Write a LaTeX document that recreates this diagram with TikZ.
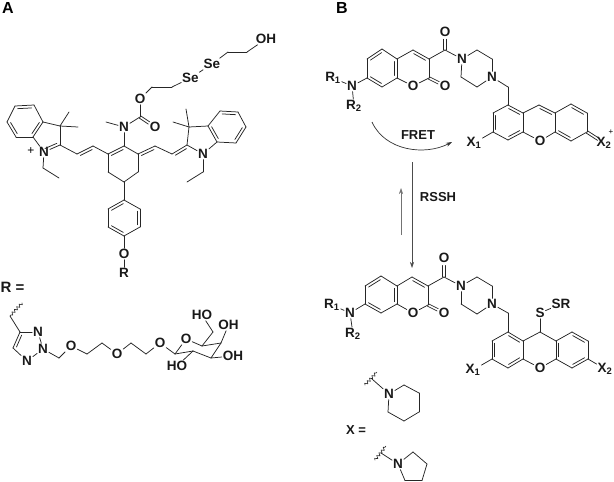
\documentclass[tikz,border=0pt]{standalone}
\usepackage{fontspec}
\setmainfont{Liberation Sans}
\usetikzlibrary{calc,arrows.meta,decorations.pathmorphing}
\tikzset{
  bond/.style={draw=black!85,line width=0.75pt,line cap=round,line join=round},
  atom/.style={font=\bfseries\fontsize{13.5}{13.5}\selectfont,inner sep=0.8pt,text=black!90},
  title/.style={font=\bfseries\fontsize{16}{16}\selectfont,inner sep=0pt},
  tlabel/.style={font=\bfseries\fontsize{13}{13}\selectfont,inner sep=0pt,text=black!90},
  wavy/.style={bond,line width=0.6pt,decorate,decoration={snake,amplitude=1.4pt,segment length=3.5pt}},
  rxn/.style={draw=black!70,line width=0.6pt,-{Stealth[length=6pt,width=4pt]}},
}
\newcommand{\innr}[2]{\draw[bond] ($(#1)!0.13!(#2)!2.8pt!-90:(#2)$) -- ($(#2)!0.13!(#1)!2.8pt!90:(#1)$);}
\newcommand{\dblo}[3]{\draw[bond] ($(#1)!1.3pt!90:(#2)$) -- ($(#1)!#3!(#2)!1.3pt!90:(#2)$);\draw[bond] ($(#1)!1.3pt!-90:(#2)$) -- ($(#1)!#3!(#2)!1.3pt!-90:(#2)$);}
\begin{document}
\begin{tikzpicture}[x=1pt,y=-1pt]
\useasboundingbox (0,0) rectangle (614,482);
\node[title] (ta) at (8,8) {A};
\node[title] (tb) at (342,8) {B};
% ---------- carbon positions ----------
\foreach \n/\x/\y in {
 La/15/106,Lb/34/105,Lc/43/122,Ld/33/137,Le/16/137,Lf/7/122,
 Lg/60/126,Lh/60/145,Lm1/69/112,Lm2/78/127,Lt1/43/168,Lt2/59/178,
 Ch1/77/154,Ch2/93/146,
 Ca/108/154,Cb/124/146,Cc/138/154,Cd/138/172,Ce/124/182,Cf/108/172,
 Nm/106/122,Cco/140/117,Ox1/152/87,Ox2/172/87,Se1/228/52,Se2/247/52,
 Rh1/155/146,Rh2/172/154,Rh3/187/145,
 Rg/189/127,Rm1/186/109,Rm2/173/122,Rt1/203/172,Rt2/187/182,
 Ra/208/126,Rb/220/111,Rc/238/112,Rd/246/127,Re/236/143,Rf/217/142,
 Pa/124/200,Pb/140/209,Pc/140/227,Pd/124/236,Pe/108/227,Pf/108/209,
 Wa/22/303,Wb/10/316,Tc/20/332,Td/13/348,
 Ea/59/358,Eb/87/354,Ec/102/343,Ed/131/343,Ee/146/354,
 Sa/175/354,Sb/193/351,Sc/211/358,Sd/221/343,Se/202/346,Sf/213/332,
 Ua/382/49,Ub/397/59,Uc/397/78,Ud/382/87,Ue/367/78,Uf/367/59,
 Ug/413/50,Uh/429/59,Ui/429/78,Uj/445/50,
 Up1/477/50,Up2/492/59,Up3/477/87,Up4/461/77,Um/508/87,
 Xa/508/105,Xb/523/113,Xc/523/132,Xd/508/140,Xe/493/132,Xf/493/113,
 Xg/539/105,Xh/555/113,Xi/555/132,Xj/571/104,Xk/587/113,Xl/587/132,Xm/571/141,
 Va/381/276,Vb/397/286,Vc/397/304,Vd/381/313,Ve/365/304,Vf/365/286,
 Vg/412/277,Vh/428/286,Vi/428/305,Vj/444/277,
 Vp1/477/277,Vp2/492/286,Vp3/477/314,Vp4/461/304,Vm/508/313,
 Ya/508/332,Yb/523/341,Yc/523/359,Yd/508/368,Ye/492/359,Yf/492/341,
 Yg/540/332,Yh/556/341,Yi/556/359,Yj/572/332,Yk/588/341,Yl/588/359,Ym/572/368,
 Aa/404/385,Ab/419/393,Ac/419/412,Ad/404/421,Ae/388/412,
 Ax1/365/385,Ax2/377/372,Ay/372/379,
 Ba/413/452,Bb/427/464,Bc/422/480.5,Bd/405/480.5,
 Bx1/375/460,Bx2/386/446,By/381/453,
 Fs/372/122,Ff/452/142,Fc1/385/151,Fc2/425/156,
 Da/412/162,Db/412/268,Dc/401/235,Dd/401/188}
 \coordinate (\n) at (\x,\y);
% ---------- atoms ----------
\foreach \n/\x/\y/\t in {
 Ln/44/152/N, Nn/124/127/N, Oc/155/127/O, Os/140/99/O,
 Sx/190.5/78/Se, Sy/212/64/Se, OH/266/39/OH, Rn/203/154/N,
 Op/124/254/O, Rr/124/273/R,
 Ta/38/332/N, Tb/43/349/N, Tn/27/361/N,
 Oa/71/346/O, Ob/117/354/O, Oe/160/343/O, Or/186/339/O,
 Hb/177/366/HO, Hc/233/356/OH, Hd/228.5/325/OH, Hf/202/315/HO,
 Un/352/86/N, Uo/413/86/O, Uco/445/86/O, Uja/445/32/O, Uq/462/59/N, Ur/492/77/N,
 Xo/540/141/O,
 Vn/350/313/N, Vo/413/313/O, Vco/444/313/O, Vja/444/258/O, Vq/461/286/N, Vr/492/304/N,
 Yo/540/368/O, Ys/540/313/S, Ysr/561/304/SR,
 An/389/394/N, Bn/398/464/N}
 \node[atom] (\n) at (\x,\y) {\t};
\node[inner sep=0pt,font=\fontsize{12}{12}\selectfont] (Lp) at (31,151) {+};
\node[atom] (U1) at (333,78) {R\textsubscript{1}};
\node[atom] (U2) at (354,106) {R\textsubscript{2}};
\node[atom] (V1) at (332,305) {R\textsubscript{1}};
\node[atom] (V2) at (353,334) {R\textsubscript{2}};
\node[atom] (X1) at (474,143) {X\textsubscript{1}};
\node[atom] (X2) at (604,143) {X\textsubscript{2}};
\node[inner sep=0pt,font=\fontsize{8}{8}\selectfont] (Xp) at (611,132) {+};
\node[atom] (Y1) at (473,370) {X\textsubscript{1}};
\node[atom] (Y2) at (605,369) {X\textsubscript{2}};
\node[tlabel,font=\bfseries\fontsize{15}{15}\selectfont] (Req) at (12.5,287) {R =};
\node[tlabel] (Xeq) at (356,430) {X =};
\node[tlabel] (fret) at (418,135) {FRET};
\node[tlabel] (rssh) at (438,197) {RSSH};
% ---------- single bonds ----------
\foreach \a/\b in {
 La/Lb,Lb/Lc,Lc/Ld,Ld/Le,Le/Lf,Lf/La,Lc/Lg,Lg/Lh,Lh/Ln,Ln/Ld,Lg/Lm1,Lg/Lm2,Ln/Lt1,Lt1/Lt2,
 Lh/Ch1,Ch1/Ch2,Ch2/Ca,Ca/Cb,Cb/Cc,Cc/Cd,Cd/Ce,Ce/Cf,Cf/Ca,Cb/Nn,Nn/Nm,Nn/Cco,Cco/Os,Os/Ox1,Ox1/Ox2,
 Ox2/Sx,Sx/Sy,Sy/Se1,Se1/Se2,Se2/OH,
 Cc/Rh1,Rh1/Rh2,Rh2/Rh3,Rh3/Rn,Rh3/Rg,Rg/Ra,Rf/Rn,Rg/Rm1,Rg/Rm2,Rn/Rt1,Rt1/Rt2,
 Ra/Rb,Rb/Rc,Rc/Rd,Rd/Re,Re/Rf,Rf/Ra,
 Ce/Pa,Pa/Pb,Pb/Pc,Pc/Pd,Pd/Pe,Pe/Pf,Pf/Pa,Pd/Op,Op/Rr,
 Wb/Tc,Tc/Ta,Ta/Tb,Tb/Tn,Tn/Td,Td/Tc,Tb/Ea,Ea/Oa,Oa/Eb,Eb/Ec,Ec/Ob,Ob/Ed,Ed/Ee,Ee/Oe,Oe/Sa,
 Sa/Or,Or/Se,Se/Sd,Sd/Sc,Sc/Sb,Sb/Sa,Sb/Hb,Sc/Hc,Sd/Hd,Se/Sf,Sf/Hf,
 Ua/Ub,Ub/Uc,Uc/Ud,Ud/Ue,Ue/Uf,Uf/Ua,Ub/Ug,Ug/Uh,Uh/Ui,Ui/Uo,Uo/Uc,Uh/Uj,Uj/Uq,
 Uq/Up1,Up1/Up2,Up2/Ur,Ur/Up3,Up3/Up4,Up4/Uq,Ur/Um,Um/Xa,Ue/Un,Un/U1,Un/U2,
 Xa/Xb,Xb/Xc,Xc/Xd,Xd/Xe,Xe/Xf,Xf/Xa,Xb/Xg,Xg/Xh,Xh/Xi,Xi/Xo,Xo/Xc,Xh/Xj,Xj/Xk,Xk/Xl,Xl/Xm,Xm/Xi,Xe/X1,
 Va/Vb,Vb/Vc,Vc/Vd,Vd/Ve,Ve/Vf,Vf/Va,Vb/Vg,Vg/Vh,Vh/Vi,Vi/Vo,Vo/Vc,Vh/Vj,Vj/Vq,
 Vq/Vp1,Vp1/Vp2,Vp2/Vr,Vr/Vp3,Vp3/Vp4,Vp4/Vq,Vr/Vm,Vm/Ya,Ve/Vn,Vn/V1,Vn/V2,
 Ya/Yb,Yb/Yc,Yc/Yd,Yd/Ye,Ye/Yf,Yf/Ya,Yb/Yg,Yg/Yh,Yh/Yi,Yi/Yo,Yo/Yc,Yh/Yj,Yj/Yk,Yk/Yl,Yl/Ym,Ym/Yi,Ye/Y1,Yl/Y2,
 Yg/Ys,Ys/Ysr,
 An/Aa,Aa/Ab,Ab/Ac,Ac/Ad,Ad/Ae,Ae/An,Ay/An,
 Bn/Ba,Ba/Bb,Bb/Bc,Bc/Bd,Bd/Bn,By/Bn}
 {\draw[bond] (\a) -- (\b);}
% ---------- second lines of double bonds ----------
\foreach \a/\b in {
 La/Lb,Lc/Ld,Le/Lf,Lh/Ln,Ch1/Ch2,Ca/Cb,Cc/Rh1,Rh2/Rh3,
 Rb/Rc,Rd/Re,Rf/Ra,Pb/Pc,Pd/Pe,Pf/Pa,Td/Tc,
 Uf/Ua,Ub/Uc,Ud/Ue,Ug/Uh,
 Vf/Va,Vb/Vc,Vd/Ve,Vg/Vh,
 Xa/Xb,Xc/Xd,Xe/Xf,Xg/Xh,Xj/Xk,Xm/Xi,
 Ya/Yb,Yc/Yd,Ye/Yf,Yj/Yk,Yl/Ym,Yi/Yh}
 {\innr{\a}{\b}}
% ---------- exocyclic double bonds ----------
\dblo{Cco}{Oc}{0.6}
\dblo{Ui}{Uco}{0.6}
\dblo{Uj}{Uja}{0.6}
\dblo{Vi}{Vco}{0.6}
\dblo{Vj}{Vja}{0.6}
\dblo{Xl}{X2}{0.66}
% ---------- wavy attachment marks ----------
\draw[wavy] (Wa) -- (Wb);
\draw[wavy] (Ax1) -- (Ax2);
\draw[wavy] (Bx1) -- (Bx2);
% ---------- arrows ----------
\draw[rxn,line width=0.7pt,draw=black!80] (Fs) .. controls (Fc1) and (Fc2) .. (Ff);
\draw[rxn] (Da) -- (Db);
\draw[rxn,draw=black!55] (Dc) -- (Dd);
\end{tikzpicture}
\end{document}
